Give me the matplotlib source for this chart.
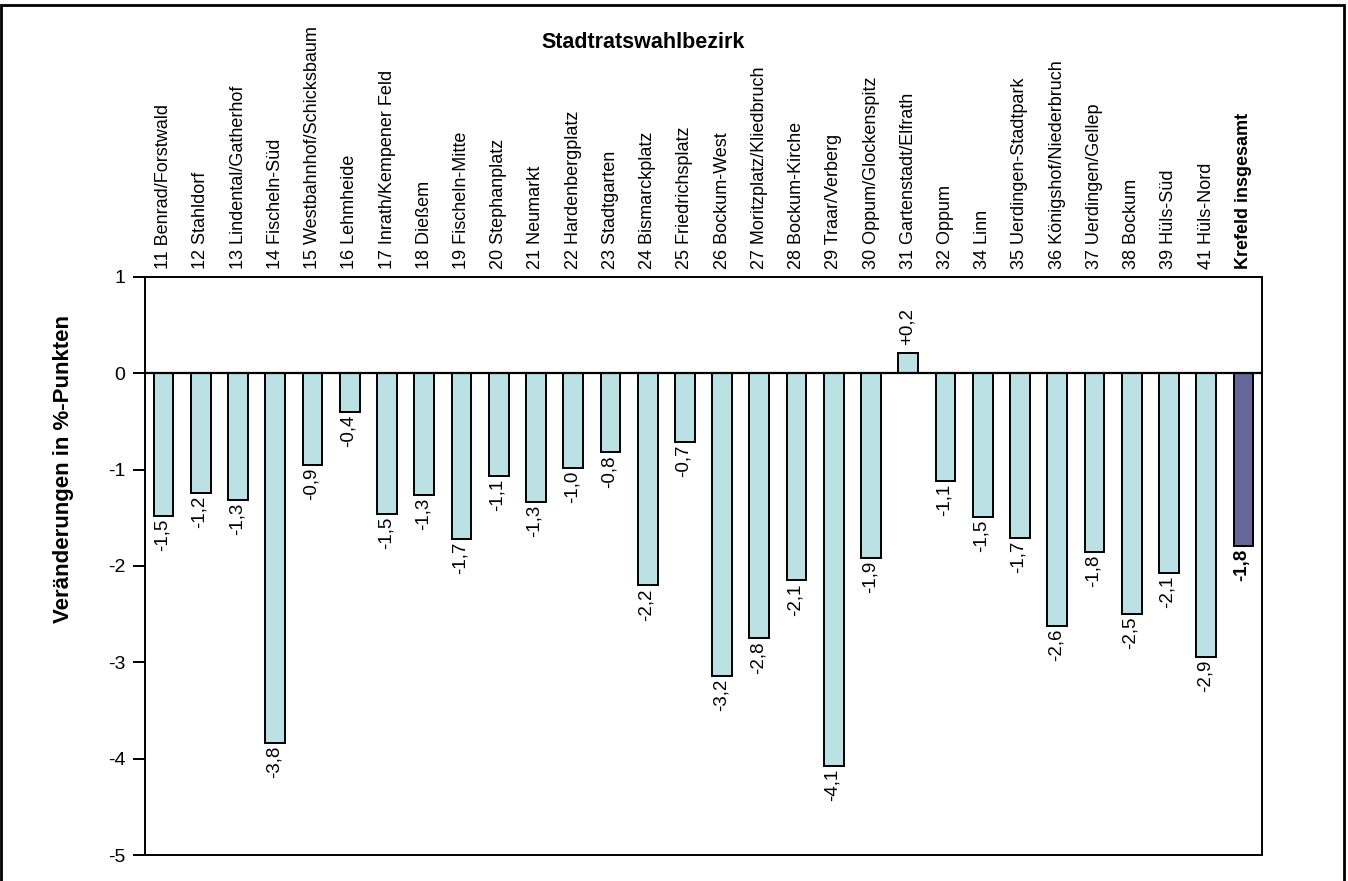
import matplotlib
matplotlib.use('Agg')
import matplotlib.pyplot as plt
from matplotlib.patches import Rectangle

plt.rcParams['font.family'] = ['Liberation Sans', 'DejaVu Sans']

# Stadtratswahlbezirke und Veränderungen in %-Punkten
bezirke = ['11 Benrad/Forstwald', '12 Stahldorf', '13 Lindental/Gatherhof', '14 Fischeln-Süd',
           '15 Westbahnhof/Schicksbaum', '16 Lehmheide', '17 Inrath/Kempener Feld', '18 Dießem',
           '19 Fischeln-Mitte', '20 Stephanplatz', '21 Neumarkt', '22 Hardenbergplatz',
           '23 Stadtgarten', '24 Bismarckplatz', '25 Friedrichsplatz', '26 Bockum-West',
           '27 Moritzplatz/Kliedbruch', '28 Bockum-Kirche', '29 Traar/Verberg',
           '30 Oppum/Glockenspitz', '31 Gartenstadt/Elfrath', '32 Oppum', '34 Linn',
           '35 Uerdingen-Stadtpark', '36 Königshof/Niederbruch', '37 Uerdingen/Gellep',
           '38 Bockum', '39 Hüls-Süd', '41 Hüls-Nord', 'Krefeld insgesamt']
werte = [-1.48, -1.24, -1.31, -3.84, -0.95, -0.40, -1.46, -1.26, -1.72, -1.07,
         -1.34, -0.98, -0.82, -2.20, -0.71, -3.14, -2.75, -2.15, -4.08, -1.92,
         0.21, -1.12, -1.49, -1.71, -2.62, -1.85, -2.50, -2.07, -2.94, -1.79]
beschriftung = ['-1,5', '-1,2', '-1,3', '-3,8', '-0,9', '-0,4', '-1,5', '-1,3', '-1,7', '-1,1',
                '-1,3', '-1,0', '-0,8', '-2,2', '-0,7', '-3,2', '-2,8', '-2,1', '-4,1', '-1,9',
                '+0,2', '-1,1', '-1,5', '-1,7', '-2,6', '-1,8', '-2,5', '-2,1', '-2,9', '-1,8']

farben = ['#BCE1E4'] * (len(werte) - 1) + ['#666699']

fig = plt.figure(figsize=(13.48, 8.81), dpi=100)
ax = fig.add_axes([145 / 1348, 1 - 855 / 881, (1262 - 145) / 1348, (855 - 277) / 881])

x = list(range(len(werte)))
ax.bar(x, werte, width=0.53, color=farben, edgecolor='black', linewidth=1.4, zorder=2)
ax.axhline(0, color='black', linewidth=1.6, zorder=3)

for i, (w, t) in enumerate(zip(werte, beschriftung)):
    fw = 'bold' if i == len(werte) - 1 else 'normal'
    if w < 0:
        ax.annotate(t, (i, w), xytext=(-1, -2), textcoords='offset points',
                    rotation=90, ha='center', va='top', fontsize=13.5, fontweight=fw)
    else:
        ax.annotate(t, (i, w), xytext=(-1, 6), textcoords='offset points',
                    rotation=90, ha='center', va='bottom', fontsize=13.5, fontweight=fw)

ax.set_xlim(-0.5, len(werte) - 0.5)
ax.set_ylim(-5, 1)
ax.set_yticks([1, 0, -1, -2, -3, -4, -5])
ax.set_yticklabels(['1', '0', '-1', '-2', '-3', '-4', '-5'])
ax.tick_params(axis='y', direction='out', length=9, width=1.4, labelsize=14, pad=5)

ax.xaxis.tick_top()
ax.set_xticks(x)
ax.set_xticklabels(bezirke, rotation=90, fontsize=13)
ax.tick_params(axis='x', length=0, pad=6)
ax.get_xticklabels()[-1].set_fontweight('bold')

for s in ax.spines.values():
    s.set_linewidth(1.4)

ax.set_ylabel('Veränderungen in %-Punkten', fontsize=16, fontweight='bold')
ax.yaxis.set_label_coords(-0.064, 0.668)

fig.text(643 / 1348, 1 - 42 / 881, 'Stadtratswahlbezirk', fontsize=15.5, fontweight='bold',
         ha='center', va='center')

# Rahmen um die Grafik
fig.patches.append(Rectangle((1 / 1348, -0.05), 1343 / 1348, 1.05 - 5 / 881,
                             transform=fig.transFigure, fill=False, edgecolor='black',
                             linewidth=2))

fig.savefig('out.png', dpi=100)
